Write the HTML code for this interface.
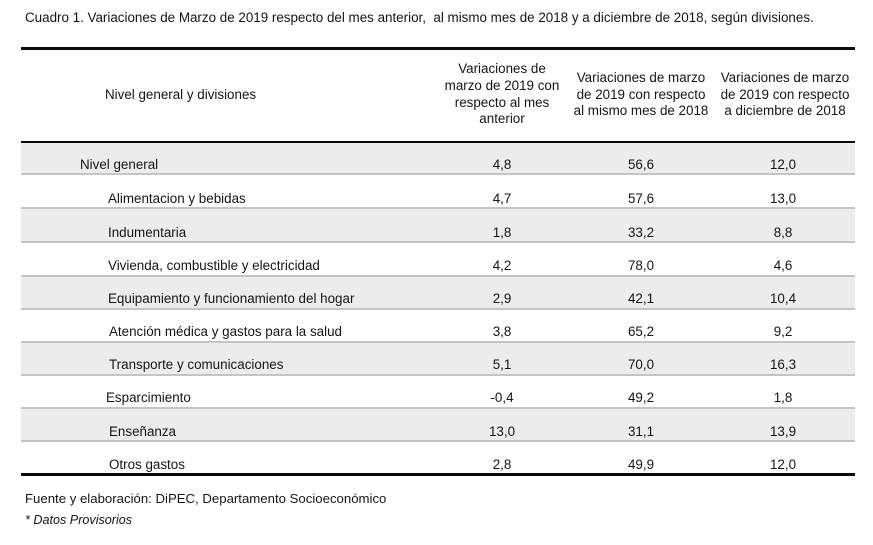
<!DOCTYPE html>
<html><head><meta charset="utf-8">
<style>
*{margin:0;padding:0;box-sizing:border-box}
html,body{width:873px;height:545px;background:#fff;overflow:hidden}
body{position:relative;font-family:"Liberation Sans",Arial,sans-serif;font-size:13.4px;color:#151515}
.a{position:absolute;white-space:pre;line-height:16px}
.ln{position:absolute;left:21px;width:834px}
.blk{background:#0a0a0a;height:2.5px}
.sep{background:#c4c4c4;height:2px}
.fill{position:absolute;left:21px;width:834px;background:#ececec}
.c{position:absolute;text-align:center;line-height:16px;white-space:pre}
.v1{left:462px;width:80px}
.v2{left:601px;width:80px}
.v3{left:743px;width:80px}
.h{position:absolute;text-align:center;line-height:16.7px;white-space:pre}
</style></head><body>
<div class="a" style="left:25px;top:10px">Cuadro 1. Variaciones de Marzo de 2019 respecto del mes anterior,  al mismo mes de 2018 y a diciembre de 2018, según divisiones.</div>

<div class="ln blk" style="top:47px"></div>
<div class="a" style="left:105px;top:87px">Nivel general y divisiones</div>
<div class="h" style="left:440px;width:124px;top:61px;line-height:16.8px">Variaciones de
marzo de 2019 con
respecto al mes
anterior</div>
<div class="h" style="left:566px;width:150px;top:70px">Variaciones de marzo
de 2019 con respecto
al mismo mes de 2018</div>
<div class="h" style="left:710px;width:150px;top:70px">Variaciones de marzo
de 2019 con respecto
a diciembre de 2018</div>
<div class="ln blk" style="top:141px"></div>

<div class="fill" style="top:143px;height:30px"></div>
<div class="fill" style="top:209px;height:32px"></div>
<div class="fill" style="top:277px;height:31px"></div>
<div class="fill" style="top:343px;height:31px"></div>
<div class="fill" style="top:409px;height:31px"></div>

<div class="ln sep" style="top:173px"></div>
<div class="ln sep" style="top:207px"></div>
<div class="ln sep" style="top:241px"></div>
<div class="ln sep" style="top:275px"></div>
<div class="ln sep" style="top:308px"></div>
<div class="ln sep" style="top:341px"></div>
<div class="ln sep" style="top:374px"></div>
<div class="ln sep" style="top:407px"></div>
<div class="ln sep" style="top:440px"></div>
<div class="ln blk" style="top:473px"></div>

<!-- row 1 -->
<div class="a" style="left:80px;top:157px">Nivel general</div>
<div class="c v1" style="top:157px">4,8</div><div class="c v2" style="top:157px">56,6</div><div class="c v3" style="top:157px">12,0</div>
<!-- row 2 -->
<div class="a" style="left:108px;top:191px">Alimentacion y bebidas</div>
<div class="c v1" style="top:191px">4,7</div><div class="c v2" style="top:191px">57,6</div><div class="c v3" style="top:191px">13,0</div>
<!-- row 3 -->
<div class="a" style="left:108px;top:225px">Indumentaria</div>
<div class="c v1" style="top:225px">1,8</div><div class="c v2" style="top:225px">33,2</div><div class="c v3" style="top:225px">8,8</div>
<!-- row 4 -->
<div class="a" style="left:108px;top:258px">Vivienda, combustible y electricidad</div>
<div class="c v1" style="top:258px">4,2</div><div class="c v2" style="top:258px">78,0</div><div class="c v3" style="top:258px">4,6</div>
<!-- row 5 -->
<div class="a" style="left:108px;top:291px">Equipamiento y funcionamiento del hogar</div>
<div class="c v1" style="top:291px">2,9</div><div class="c v2" style="top:291px">42,1</div><div class="c v3" style="top:291px">10,4</div>
<!-- row 6 -->
<div class="a" style="left:109px;top:324px">Atención médica y gastos para la salud</div>
<div class="c v1" style="top:324px">3,8</div><div class="c v2" style="top:324px">65,2</div><div class="c v3" style="top:324px">9,2</div>
<!-- row 7 -->
<div class="a" style="left:109px;top:357px">Transporte y comunicaciones</div>
<div class="c v1" style="top:357px">5,1</div><div class="c v2" style="top:357px">70,0</div><div class="c v3" style="top:357px">16,3</div>
<!-- row 8 -->
<div class="a" style="left:106px;top:390px">Esparcimiento</div>
<div class="c v1" style="top:390px">-0,4</div><div class="c v2" style="top:390px">49,2</div><div class="c v3" style="top:390px">1,8</div>
<!-- row 9 -->
<div class="a" style="left:109px;top:424px">Enseñanza</div>
<div class="c v1" style="top:424px">13,0</div><div class="c v2" style="top:424px">31,1</div><div class="c v3" style="top:424px">13,9</div>
<!-- row 10 -->
<div class="a" style="left:109px;top:457px">Otros gastos</div>
<div class="c v1" style="top:457px">2,8</div><div class="c v2" style="top:457px">49,9</div><div class="c v3" style="top:457px">12,0</div>

<div class="a" style="left:25px;top:491px;font-size:13.2px">Fuente y elaboración: DiPEC, Departamento Socioeconómico</div>
<div class="a" style="left:25px;top:512px;font-style:italic;font-size:12.6px">* Datos Provisorios</div>
</body></html>
